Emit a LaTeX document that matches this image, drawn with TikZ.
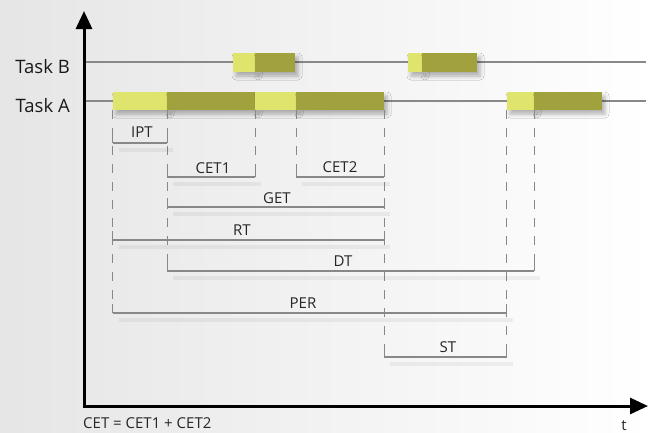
\documentclass[tikz,border=0pt]{standalone}
\usepackage{fontspec}
\setmainfont{Open Sans}
\usetikzlibrary{arrows.meta,shadows.blur}
\definecolor{barlight}{HTML}{DFE46C}
\definecolor{bardark}{HTML}{A1A13E}
\definecolor{rulegray}{HTML}{888888}
\begin{document}
\begin{tikzpicture}[x=1pt,y=-1pt,
  seg/.style={draw=none, inner sep=0pt, minimum height=18pt,
    blur shadow={shadow xshift=3pt, shadow yshift=-4pt,
      shadow blur radius=4pt, shadow opacity=30}},
  lightseg/.style={seg, fill=barlight},
  darkseg/.style={seg, fill=bardark},
  taskline/.style={draw=rulegray, line width=1.8pt},
  guide/.style={draw=rulegray, line width=1pt, dash pattern=on 9pt off 9pt},
  span/.style={draw=rulegray, line width=1.5pt},
  spanshade/.style={draw=black, opacity=0.05, line width=4pt},
  endtick/.style={draw=rulegray, line width=1pt},
  lbl/.style={font=\fontsize{15}{18}\selectfont, text=black!85, inner sep=0pt},
  tasklbl/.style={font=\fontsize{18.5}{22}\selectfont, text=black!90, inner sep=0pt},
  axis/.style={line width=3pt, line join=miter,
    {Triangle[length=18pt,width=16pt]}-{Triangle[length=18pt,width=16pt]}}
]
% canvas and background
\useasboundingbox (0,0) rectangle (651,432);
\shade[shading=axis, shading angle=60, left color=black!10, right color=white]
  (0,0) rectangle (651,432);

% task lines
\coordinate (bstart) at (84,62);
\coordinate (bend) at (646,62);
\coordinate (astart) at (84,101);
\coordinate (aend) at (646,101);
\draw[taskline] (bstart) -- (bend);
\draw[taskline] (astart) -- (aend);

% task labels
\node[tasklbl, anchor=east] (tb) at (70,67) {Task B};
\node[tasklbl, anchor=east] (ta) at (70,106) {Task A};

% task B execution segments
\node[lightseg, minimum width=22pt, minimum height=19pt] (b1) at (244,62.5) {};
\node[darkseg,  minimum width=40pt, minimum height=19pt] (b2) at (275,62.5) {};
\node[lightseg, minimum width=14pt, minimum height=19pt] (b3) at (415,62.5) {};
\node[darkseg,  minimum width=55pt, minimum height=19pt] (b4) at (449.5,62.5) {};

% task A execution segments
\node[lightseg, minimum width=54pt] (a1) at (140,101) {};
\node[darkseg,  minimum width=88pt] (a2) at (211,101) {};
\node[lightseg, minimum width=41pt] (a3) at (275.5,101) {};
\node[darkseg,  minimum width=88pt] (a4) at (340,101) {};
\node[lightseg, minimum width=27pt] (a5) at (520.5,101) {};
\node[darkseg,  minimum width=68pt] (a6) at (568,101) {};

% measurement levels
\coordinate (yIPT) at (0,143);
\coordinate (yCET) at (0,177);
\coordinate (yGET) at (0,207);
\coordinate (yRT)  at (0,240);
\coordinate (yDT)  at (0,271);
\coordinate (yPER) at (0,313);
\coordinate (yST)  at (0,357);

% dashed guides from the segment edges
\draw[guide] (a1.south west) -- (a1.south west |- yPER);
\draw[guide] (a1.south east) -- (a1.south east |- yDT);
\draw[guide] (a2.south east) -- (a2.south east |- yCET);
\draw[guide] (a3.south east) -- (a3.south east |- yCET);
\draw[guide] (a4.south east) -- (a4.south east |- yST);
\draw[guide] (a5.south west) -- (a5.south west |- yST);
\draw[guide] (a5.south east) -- (a5.south east |- yDT);

% spans: soft shade, line, end ticks
\foreach \l/\r/\lev in {a1.south west/a1.south east/yIPT,
                       a1.south east/a2.south east/yCET,
                       a3.south east/a4.south east/yCET,
                       a1.south east/a4.south east/yGET,
                       a1.south west/a4.south east/yRT,
                       a1.south east/a5.south east/yDT,
                       a1.south west/a5.south west/yPER,
                       a4.south east/a5.south west/yST}{
  \draw[spanshade] ([shift={(6pt,-7pt)}]\l |- \lev) -- ([shift={(6pt,-7pt)}]\r |- \lev);
  \draw[span] (\l |- \lev) -- (\r |- \lev);
  \draw[endtick] (\l |- \lev) -- ++(0,-9);
  \draw[endtick] (\r |- \lev) -- ++(0,-9);
}

% span labels
\node[lbl] (lIPT)  at (142,132) {IPT};
\node[lbl] (lCET1) at (213,168) {CET1};
\node[lbl] (lCET2) at (340,167) {CET2};
\node[lbl] (lGET)  at (277,198) {GET};
\node[lbl] (lRT)   at (242,230) {RT};
\node[lbl] (lDT)   at (343,261) {DT};
\node[lbl] (lPER)  at (303,303) {PER};
\node[lbl] (lST)   at (448,347) {ST};

% axes
\coordinate (origin) at (84,406);
\coordinate (ytip) at (84,11);
\coordinate (xtip) at (648,406);
\draw[axis] (ytip) -- (origin) -- (xtip);

\node[lbl, anchor=west] (formula) at (83,423) {CET = CET1 + CET2};
\node[lbl, anchor=north] (tlabel) at (624,420) {t};
\end{tikzpicture}
\end{document}
